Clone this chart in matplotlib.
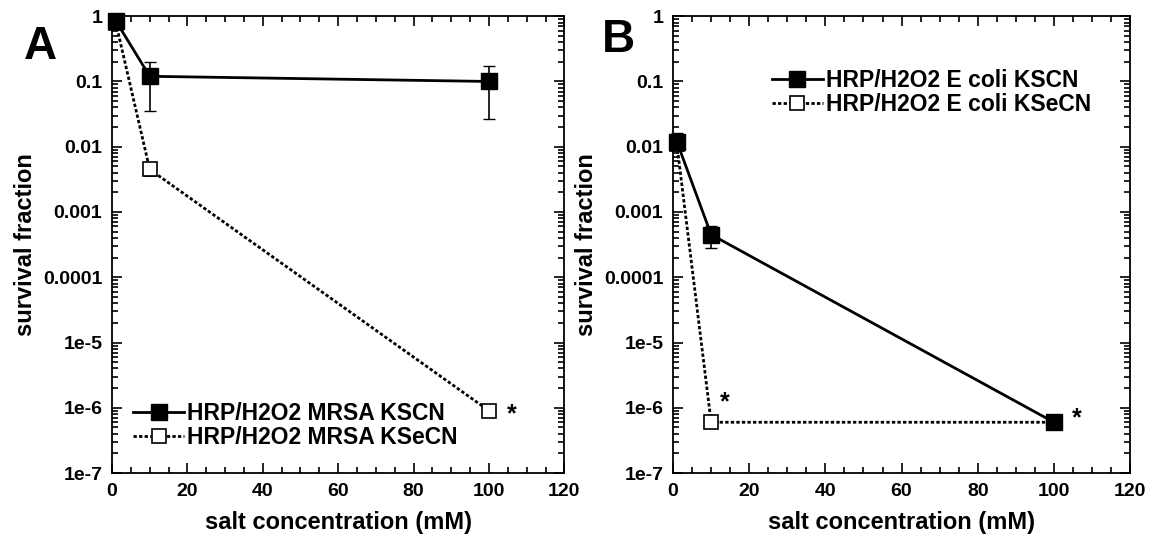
import numpy as np
import matplotlib.pyplot as plt
from matplotlib.lines import Line2D
from matplotlib.ticker import FixedLocator, FixedFormatter, MultipleLocator, LogLocator, NullFormatter

plt.rcParams['font.family'] = ['Liberation Sans', 'DejaVu Sans']
plt.rcParams['font.weight'] = 'bold'

# panel A: MRSA
a_x = [1, 10, 100]
a_kscn = [0.85, 0.12, 0.10]
a_kscn_lo = [0.75, 0.035, 0.027]
a_kscn_hi = [0.95, 0.20, 0.17]
a_ksecn = [0.80, 0.0045, 9e-7]
a_ksecn_lo = [0.75, 0.0035, 9e-7]
a_ksecn_hi = [0.85, 0.0050, 9e-7]

# panel B: E coli
b_x = [1, 10, 100]
b_kscn = [0.012, 0.00045, 6e-7]
b_kscn_lo = [0.009, 0.00028, 6e-7]
b_kscn_hi = [0.016, 0.00060, 6e-7]
b_ksecn = [0.011, 6e-7, 6e-7]

ytick_vals = [1, 0.1, 0.01, 0.001, 0.0001, 1e-5, 1e-6, 1e-7]
ytick_labels = ['1', '0.1', '0.01', '0.001', '0.0001', '1e-5', '1e-6', '1e-7']
xtick_vals = [0, 20, 40, 60, 80, 100, 120]

DOT = (0, (1.2, 0.8))
solid_kw = dict(color='black', marker='s', markersize=11, lw=2)
open_kw = dict(color='black', marker='s', markersize=10, mfc='white', mew=1.2, lw=2, ls=DOT)


def style_axes(ax):
    ax.set_yscale('log')
    ax.set_ylim(1e-7, 1)
    ax.set_xlim(0, 120)
    ax.yaxis.set_major_locator(FixedLocator(ytick_vals))
    ax.yaxis.set_major_formatter(FixedFormatter(ytick_labels))
    ax.yaxis.set_minor_locator(LogLocator(base=10, subs=np.arange(2, 10)))
    ax.yaxis.set_minor_formatter(NullFormatter())
    ax.xaxis.set_major_locator(FixedLocator(xtick_vals))
    ax.xaxis.set_minor_locator(MultipleLocator(5))
    ax.tick_params(which='both', direction='in', top=True, right=True,
                   labelsize=14, width=1.2)
    ax.tick_params(which='major', length=7, pad=7)
    ax.tick_params(which='minor', length=4)
    for lab in ax.get_xticklabels() + ax.get_yticklabels():
        lab.set_fontweight('bold')
    for s in ax.spines.values():
        s.set_linewidth(1.3)
    ax.set_xlabel('salt concentration (mM)', fontsize=17, fontweight='bold', labelpad=8)
    ax.set_ylabel('survival fraction', fontsize=17, fontweight='bold', labelpad=4)


def yerr(y, lo, hi):
    y = np.array(y)
    return [y - np.array(lo), np.array(hi) - y]


def unclip(container):
    for art in container.get_children():
        art.set_clip_on(False)


fig = plt.figure(figsize=(11.63, 5.4), dpi=100)
axA = fig.add_axes([0.0963, 0.124, 0.389, 0.846])
axB = fig.add_axes([0.5787, 0.124, 0.393, 0.846])

leg_prop = {'size': 16.5, 'weight': 'bold'}

# panel A
eb = axA.errorbar(a_x, a_ksecn, yerr=yerr(a_ksecn, a_ksecn_lo, a_ksecn_hi),
                  capsize=4, elinewidth=1.2, **open_kw)
unclip(eb)
eb = axA.errorbar(a_x, a_kscn, yerr=yerr(a_kscn, a_kscn_lo, a_kscn_hi),
                  capsize=4, elinewidth=1.2, **solid_kw)
unclip(eb)
axA.text(106, 8e-7, '*', fontsize=18, fontweight='bold', ha='center', va='center')
style_axes(axA)
handlesA = [Line2D([], [], **solid_kw), Line2D([], [], **open_kw)]
axA.legend(handlesA, ['HRP/H2O2 MRSA KSCN', 'HRP/H2O2 MRSA KSeCN'],
           loc='lower left', bbox_to_anchor=(0.012, 0.018), frameon=False,
           prop=leg_prop, handlelength=2.2, handletextpad=0.15,
           labelspacing=0.05, borderpad=0.2)
fig.text(0.035, 0.913, 'A', fontsize=33, fontweight='bold', ha='center', va='center')

# panel B
axB.plot(b_x, b_ksecn, clip_on=False, **open_kw)
eb = axB.errorbar(b_x, b_kscn, yerr=yerr(b_kscn, b_kscn_lo, b_kscn_hi),
                  capsize=4, elinewidth=1.2, **solid_kw)
unclip(eb)
axB.text(13.5, 1.2e-6, '*', fontsize=18, fontweight='bold', ha='center', va='center')
axB.text(106, 7e-7, '*', fontsize=18, fontweight='bold', ha='center', va='center')
style_axes(axB)
handlesB = [Line2D([], [], **solid_kw), Line2D([], [], **open_kw)]
axB.legend(handlesB, ['HRP/H2O2 E coli KSCN', 'HRP/H2O2 E coli KSeCN'],
           loc='upper right', bbox_to_anchor=(0.95, 0.92), frameon=False,
           prop=leg_prop, handlelength=2.2, handletextpad=0.15,
           labelspacing=0.05, borderpad=0.2)
fig.text(0.532, 0.925, 'B', fontsize=33, fontweight='bold', ha='center', va='center')

fig.savefig('out.png', dpi=100)
